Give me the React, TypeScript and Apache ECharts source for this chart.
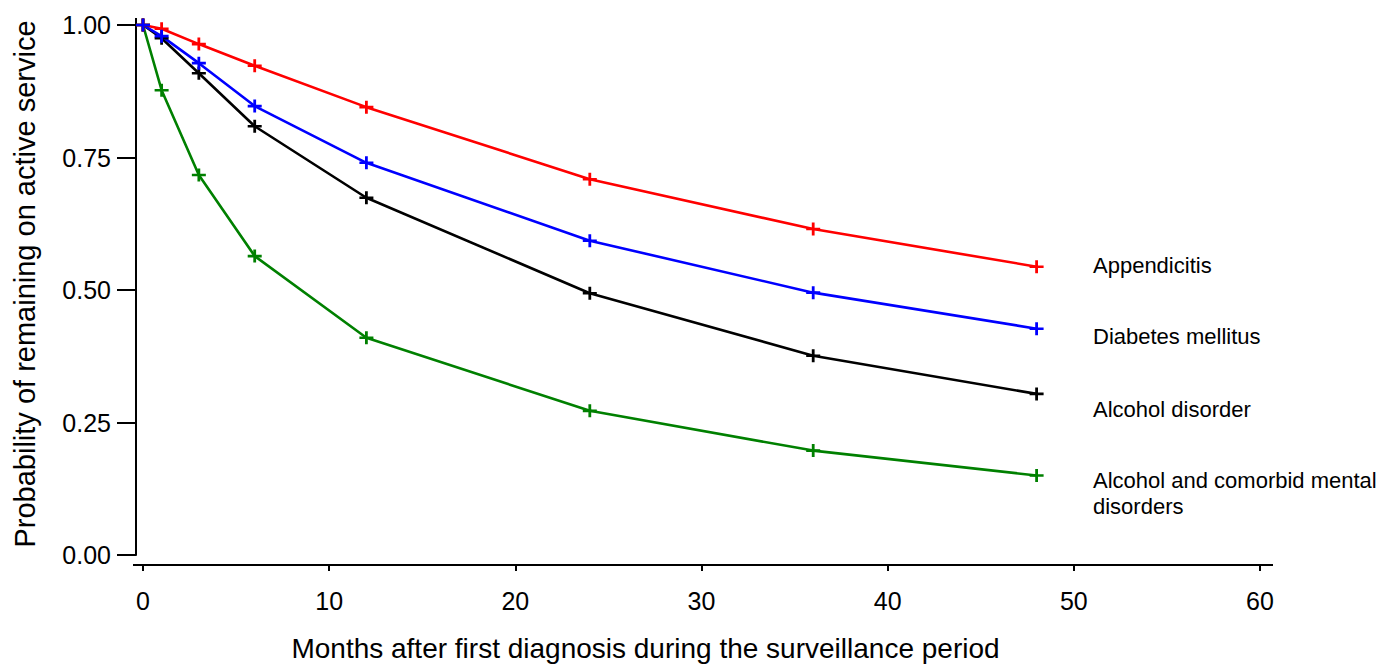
import React, { useEffect, useRef } from "react";
import * as echarts from "echarts";

const months = [0, 1, 3, 6, 12, 24, 36, 48];
const appendicitis = [1.0, 0.993, 0.964, 0.923, 0.845, 0.709, 0.615, 0.544];
const diabetes = [1.0, 0.979, 0.928, 0.847, 0.740, 0.593, 0.495, 0.427];
const alcohol = [1.0, 0.975, 0.909, 0.809, 0.674, 0.494, 0.376, 0.304];
const alcoholComorbid = [1.0, 0.877, 0.717, 0.564, 0.410, 0.272, 0.197, 0.150];

const seriesNames = [
  "Alcohol and comorbid mental disorders",
  "Alcohol disorder",
  "Appendicitis",
  "Diabetes mellitus",
];
const seriesValues = [alcoholComorbid, alcohol, appendicitis, diabetes];
const seriesColors = ["#008000", "#000000", "#ff0000", "#0000ff"];

const labelTexts = [
  "Appendicitis",
  "Diabetes mellitus",
  "Alcohol disorder",
  "Alcohol and comorbid mental\ndisorders",
];

const xAxisName = "Months after first diagnosis during the surveillance period";
const yAxisName = "Probability of remaining on active service";

const FONT = '"Liberation Sans", Arial, Helvetica, sans-serif';
const PLUS =
  "path://M0,4 L4,4 L4,0 L6,0 L6,4 L10,4 L10,6 L6,6 L6,10 L4,10 L4,6 L0,6 Z";

export default function App() {
  const ref = useRef<HTMLDivElement>(null);

  useEffect(() => {
    if (!ref.current) return;
    const chart = echarts.init(ref.current, undefined, { renderer: "svg" });

    const series = seriesNames.map((name, i) => ({
      name,
      type: "line",
      data: months.map((m, j) => [m, seriesValues[i][j]]),
      symbol: PLUS,
      symbolSize: [14, 13],
      showAllSymbol: true,
      lineStyle: { color: seriesColors[i], width: 2.6 },
      itemStyle: { color: seriesColors[i], borderWidth: 0 },
      emphasis: { disabled: true },
    }));

    const labelY = [265, 336, 409, 467];
    const graphic: any[] = labelTexts.map((t, i) => ({
      type: "text",
      x: 1093,
      y: labelY[i],
      style: {
        text: t,
        fill: "#000",
        fontSize: 22,
        fontFamily: FONT,
        lineHeight: 26,
        verticalAlign: i === 3 ? "top" : "middle",
        align: "left",
      },
    }));
    // small extensions of the detached axis lines
    const axisExt = [
      [136, 18, 136, 26],
      [133, 565, 144, 565],
      [1259, 565, 1273, 565],
    ];
    axisExt.forEach(([x1, y1, x2, y2]) =>
      graphic.push({
        type: "line",
        shape: { x1, y1, x2, y2 },
        style: { stroke: "#000", lineWidth: 2 },
      })
    );

    chart.setOption({
      animation: false,
      backgroundColor: "#ffffff",
      grid: {
        left: 143,
        right: 134,
        top: 25,
        bottom: 110,
        containLabel: false,
        outerBoundsMode: "none",
      },
      xAxis: {
        type: "value",
        min: 0,
        max: 60,
        interval: 10,
        offset: 10,
        name: xAxisName,
        nameLocation: "middle",
        nameGap: 69,
        nameTextStyle: {
          fontSize: 28,
          fontFamily: FONT,
          color: "#000",
          padding: [0, 112, 0, 0],
        },
        axisLine: { show: true, onZero: false, lineStyle: { color: "#000", width: 2 } },
        axisTick: { show: true, length: 6, lineStyle: { color: "#000", width: 2 } },
        axisLabel: { fontSize: 25, fontFamily: FONT, color: "#000", margin: 23 },
        splitLine: { show: false },
      },
      yAxis: {
        type: "value",
        min: 0,
        max: 1,
        interval: 0.25,
        offset: 7,
        name: yAxisName,
        nameLocation: "middle",
        nameGap: 97,
        nameTextStyle: {
          fontSize: 29,
          fontFamily: FONT,
          color: "#000",
          padding: [0, 0, 0, 12],
        },
        axisLine: { show: true, onZero: false, lineStyle: { color: "#000", width: 2 } },
        axisTick: { show: true, length: 19, lineStyle: { color: "#000", width: 2 } },
        axisLabel: {
          fontSize: 25,
          fontFamily: FONT,
          color: "#000",
          margin: 25,
          formatter: (v: number) => v.toFixed(2),
        },
        splitLine: { show: false },
      },
      series,
      graphic,
    });

    return () => chart.dispose();
  }, []);

  return (
    <div
      ref={ref}
      style={{ position: "fixed", left: 0, top: 0, width: 1394, height: 665 }}
    />
  );
}
